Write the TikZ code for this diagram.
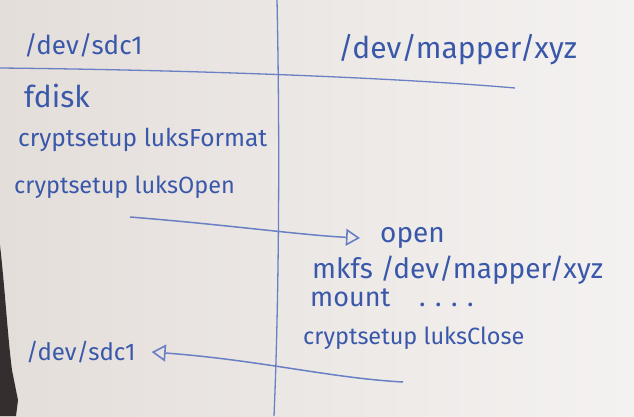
\documentclass[tikz,border=0pt]{standalone}
\usepackage{fontspec}
\setmainfont{Fira Sans}
\usetikzlibrary{arrows.meta}

\definecolor{ink}{RGB}{58,88,170}
\definecolor{pale}{RGB}{105,128,196}
\definecolor{boardL}{RGB}{228,222,218}
\definecolor{boardR}{RGB}{244,242,241}
\definecolor{coat}{RGB}{52,46,46}

\tikzset{
  hand/.style={text=ink, font=\fontsize{#1}{#1}\selectfont, inner sep=0pt, anchor=west},
  hand/.default=24,
  rule/.style={pale, line width=1.3pt},
  flow/.style={pale, line width=1.5pt, -{Triangle[open, length=14pt, width=17pt, line width=1.6pt]}}
}

\begin{document}
\begin{tikzpicture}[x=1pt, y=-1pt]
\shade[left color=boardL, right color=boardR] (0,0) rectangle (634,416);
\useasboundingbox (0,0) rectangle (634,416);
\fill[coat] (0,245) .. controls (5,290) and (8,340) .. (12,370) -- (18,400) -- (16,416) -- (0,416) -- cycle;

\draw[rule] (0,68) .. controls (200,70) and (400,78) .. (515,88);
\draw[rule] (277,0) .. controls (280,140) and (279,300) .. (274,416);

\node[hand=26] (sdcTop) at (24,45) {/dev/sdc1};
\node[hand=30] (mapTop) at (338,50) {/dev/mapper/xyz};

\node[hand=30] (fdisk) at (24,96) {fdisk};
\node[hand=24.5] (format) at (18,140) {cryptsetup luksFormat};
\node[hand=23.5] (lopen) at (14,187) {cryptsetup luksOpen};

\node[hand=28] (open) at (380,238) {open};
\node[hand=28] (mkfs) at (312,270) {mkfs /dev/mapper/xyz};
\node[hand=27] (mount) at (310,298) {mount \ \ \ . . . .};
\node[hand=23.5] (close) at (303,338) {cryptsetup luksClose};

\node[hand=24] (sdcBot) at (26,352) {/dev/sdc1};

\coordinate (fromOpen) at (130,217);
\coordinate (fromClose) at (403,382);
\draw[flow] (fromOpen) .. controls (230,225) and (300,235) .. ([xshift=-20pt]open.west);
\draw[flow] (fromClose) .. controls (330,378) and (260,360) .. ([xshift=16pt]sdcBot.east);

\end{tikzpicture}
\end{document}
